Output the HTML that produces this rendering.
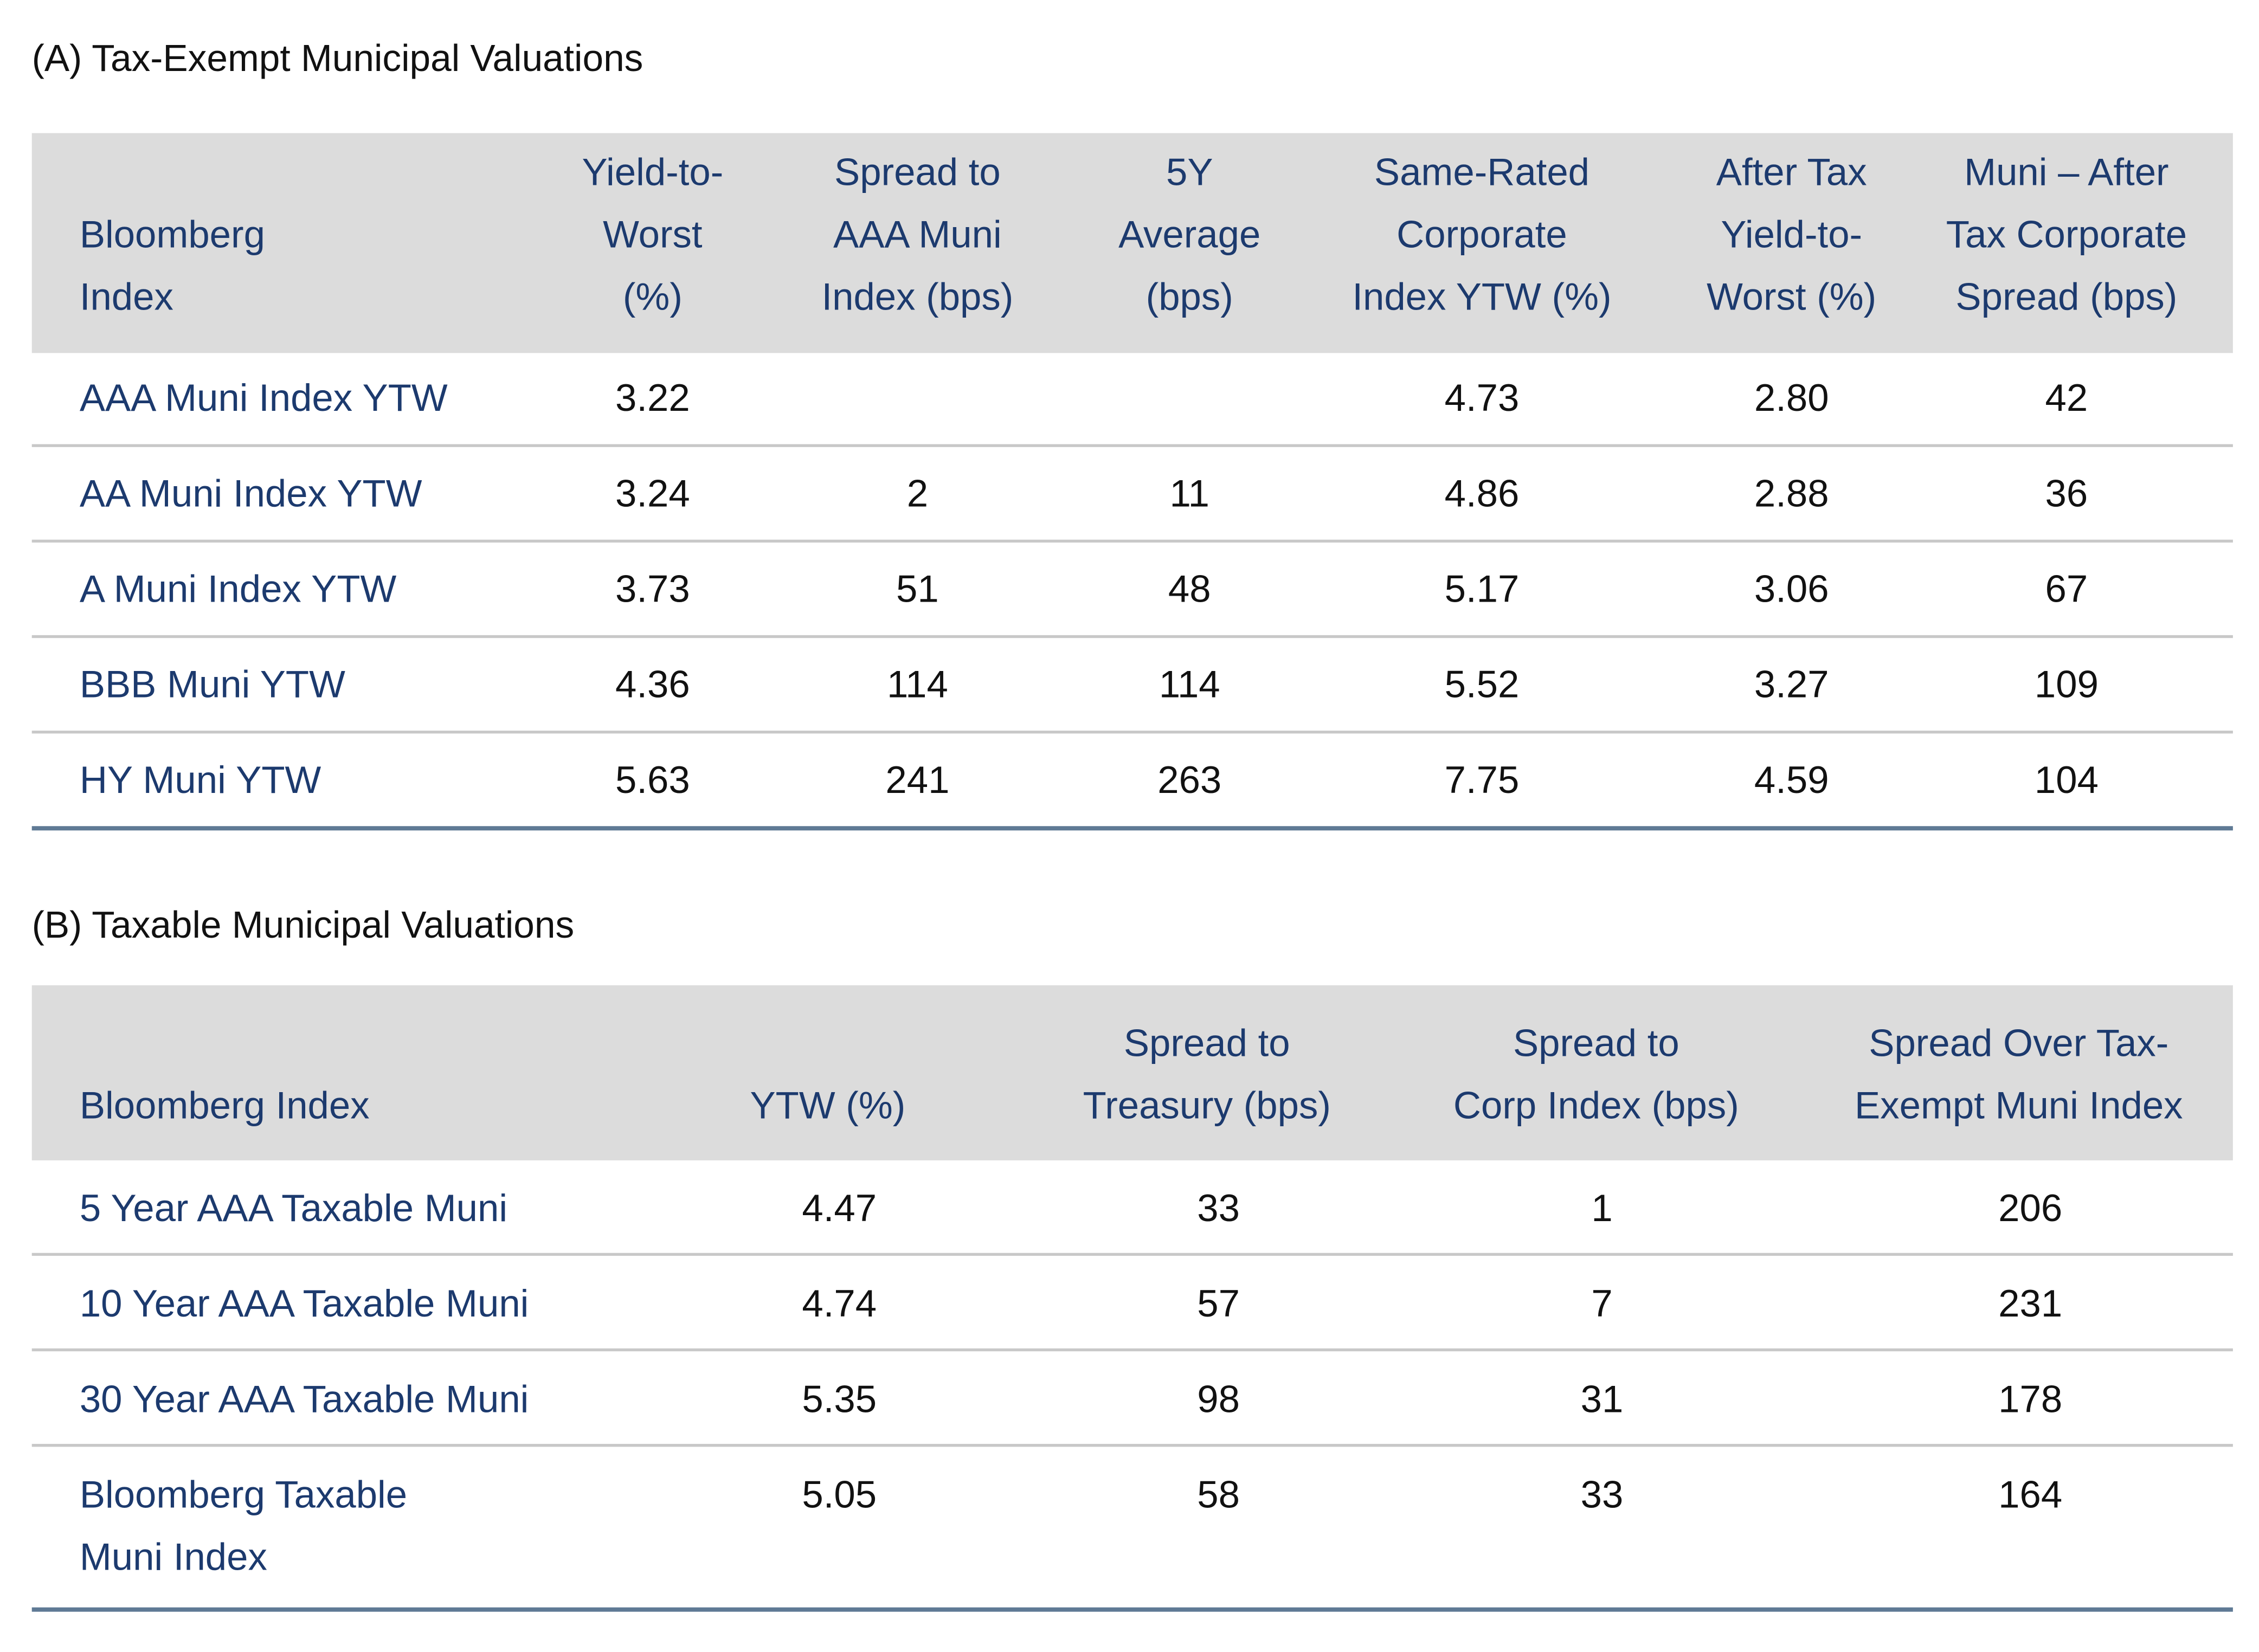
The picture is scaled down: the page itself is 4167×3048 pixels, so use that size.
<!DOCTYPE html>
<html><head><meta charset="utf-8">
<style>
html,body{margin:0;padding:0;background:#fff;}
body{width:4167px;height:3048px;overflow:hidden;position:relative;}
#wrap{position:absolute;left:0;top:0;width:1561px;height:1142px;transform:scale(2.6694);transform-origin:0 0;font-family:"Liberation Sans",sans-serif;}
.t{position:absolute;white-space:nowrap;line-height:43px;}
.title{font-size:26px;color:#111;left:22px;}
.hdr{position:absolute;background:#dcdcdc;left:22px;width:1521px;}
.h{color:#1c3a6e;font-size:26.5px;text-align:center;transform:translateX(-50%);}
.lbl{color:#1c3a6e;font-size:26.5px;left:55px;}
.n{color:#111;font-size:26.5px;transform:translateX(-50%);text-align:center;}
.line{position:absolute;left:22px;width:1521px;height:1.5px;background:#c8c8c8;}
.bot{position:absolute;left:22px;width:1521px;height:2.5px;background:#5f7a95;}
</style></head>
<body>
<div id="wrap">
<div class="t title" style="top:19px">(A) Tax-Exempt Municipal Valuations</div>
<div class="hdr" style="top:92px;height:152px"></div>
<div class="t lbl" style="top:141px">Bloomberg<br>Index</div>
<div class="t h" style="top:98px;left:451px">Yield-to-<br>Worst<br>(%)</div>
<div class="t h" style="top:98px;left:634px">Spread to<br>AAA Muni<br>Index (bps)</div>
<div class="t h" style="top:98px;left:822px">5Y<br>Average<br>(bps)</div>
<div class="t h" style="top:98px;left:1024px">Same-Rated<br>Corporate<br>Index YTW (%)</div>
<div class="t h" style="top:98px;left:1238px">After Tax<br>Yield-to-<br>Worst (%)</div>
<div class="t h" style="top:98px;left:1428px">Muni – After<br>Tax Corporate<br>Spread (bps)</div>
<div id="rowsA"></div>
<div class="line" style="top:307px"></div><div class="line" style="top:373px"></div><div class="line" style="top:439px"></div><div class="line" style="top:505px"></div>
<div class="bot" style="top:571px"></div>

<div class="t title" style="top:618px">(B) Taxable Municipal Valuations</div>
<div class="hdr" style="top:681px;height:121px"></div>
<div class="t lbl" style="top:743px">Bloomberg Index</div>
<div class="t h" style="top:743px;left:572px">YTW (%)</div>
<div class="t h" style="top:700px;left:834px">Spread to<br>Treasury (bps)</div>
<div class="t h" style="top:700px;left:1103px">Spread to<br>Corp Index (bps)</div>
<div class="t h" style="top:700px;left:1395px">Spread Over Tax-<br>Exempt Muni Index</div>
<div id="rowsB"></div>
<div class="line" style="top:866px"></div><div class="line" style="top:932px"></div><div class="line" style="top:998px"></div>
<div class="bot" style="top:1111px"></div>
</div>
<script>
const rowsA=["AAA Muni Index YTW","AA Muni Index YTW","A Muni Index YTW","BBB Muni YTW","HY Muni YTW"];
const valsA=[["3.22","","","4.73","2.80","42"],["3.24","2","11","4.86","2.88","36"],["3.73","51","48","5.17","3.06","67"],["4.36","114","114","5.52","3.27","109"],["5.63","241","263","7.75","4.59","104"]];
const rowsB=["5 Year AAA Taxable Muni","10 Year AAA Taxable Muni","30 Year AAA Taxable Muni","Bloomberg Taxable<br>Muni Index"];
const valsB=[["4.47","33","1","206"],["4.74","57","7","231"],["5.35","98","31","178"],["5.05","58","33","164"]];
const colsA=[451,634,822,1024,1238,1428], colsB=[580,842,1107,1403];
function build(id,rows,vals,cols,top0,pitch,pre){
  const c=document.getElementById(id);
  rows.forEach((r,i)=>{
    const y=top0+i*pitch;
    const l=document.createElement('div');
    l.className='t lbl';l.style.top=y+'px';l.innerHTML=r;
    
    
    c.appendChild(l);
    vals[i].forEach((v,j)=>{
      const d=document.createElement('div');
      d.className='t n';d.style.top=y+'px';d.style.left=cols[j]+'px';d.textContent=v;
      
      
      c.appendChild(d);
    });
  });
}
build('rowsA',rowsA,valsA,colsA,254,66,'a-');
build('rowsB',rowsB,valsB,colsB,814,66,'b-');
</script>
</body></html>
